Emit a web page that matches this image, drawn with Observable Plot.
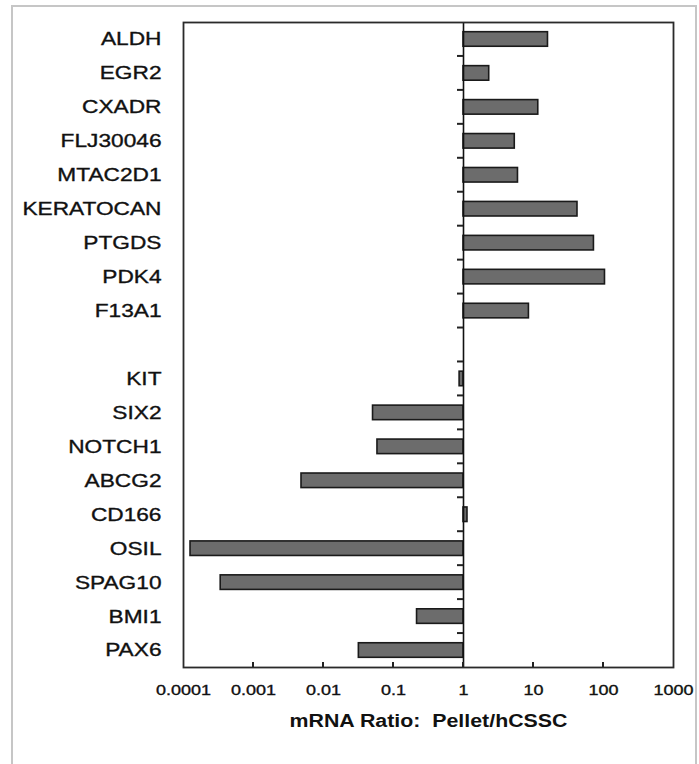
<!DOCTYPE html>
<html>
<head>
<meta charset="utf-8">
<script src="https://cdn.jsdelivr.net/npm/d3@7"></script>
<script src="https://cdn.jsdelivr.net/npm/@observablehq/plot@0.6"></script>
<style>
  html, body { margin: 0; padding: 0; background: #fff; }
  #wrap { position: relative; width: 699px; height: 764px; overflow: hidden; background: #fff; }
  #border { position: absolute; left: 11px; top: 5px; width: 686px; height: 800px;
            border: 2px solid #c6c6c6; border-bottom: none; box-sizing: border-box; z-index: 2; pointer-events: none; }
  #chart { position: absolute; left: 0; top: 0; z-index: 1; }
</style>
</head>
<body>
<div id="wrap"><div id="border"></div><div id="chart"></div></div>
<script>
// Categories in display order; " " is the blank spacer row between the two groups
const categories = ["ALDH","EGR2","CXADR","FLJ30046","MTAC2D1","KERATOCAN","PTGDS","PDK4","F13A1"," ",
                    "KIT","SIX2","NOTCH1","ABCG2","CD166","OSIL","SPAG10","BMI1","PAX6"];
const genes  = ["ALDH","EGR2","CXADR","FLJ30046","MTAC2D1","KERATOCAN","PTGDS","PDK4","F13A1",
                "KIT","SIX2","NOTCH1","ABCG2","CD166","OSIL","SPAG10","BMI1","PAX6"];
const ratios = [16.1, 2.33, 11.7, 5.4, 6.0, 42.5, 73, 105, 8.6,
                0.88, 0.051, 0.059, 0.00485, 1.14, 0.000126, 0.00034, 0.217, 0.032];
const xTicks = [0.0001, 0.001, 0.01, 0.1, 1, 10, 100, 1000];
const xTickLabels = ["0.0001","0.001","0.01","0.1","1","10","100","1000"];
const xTitle = "mRNA Ratio:  Pellet/hCSSC";

const data = genes.map((g, i) => ({gene: g, ratio: ratios[i]}));

const W = 699, H = 764, mT = 22, mB = 97, mL = 183, mR = 26;
const font = "'Liberation Sans', Arial, Helvetica, sans-serif";

const plot = Plot.plot({
  width: W, height: H,
  marginTop: mT, marginBottom: mB, marginLeft: mL, marginRight: mR,
  style: {fontFamily: font, color: "#111", background: "transparent"},
  x: {type: "log", domain: [0.0001, 1000]},
  y: {domain: categories, padding: 0, round: false},
  marks: [
    Plot.barX(data, {y: "gene", x1: 1, x2: "ratio", insetTop: 9.7, insetBottom: 9.7,
                     fill: "#6c6c6c", stroke: "#1a1a1a", strokeWidth: 1.6}),
    Plot.ruleX([1], {stroke: "#111", strokeWidth: 1.6}),
    Plot.frame({stroke: "#2a2a2a", strokeWidth: 1.8}),
    Plot.axisX({ticks: xTicks, tickFormat: (d) => xTickLabels[xTicks.indexOf(d)], tickSize: 0, tickPadding: 17, label: null, fontSize: 14.5}),
    Plot.axisY({tickSize: 0, tickPadding: 22, label: null, fontSize: 18.6}),
    Plot.text([xTitle], {frameAnchor: "bottom", dy: 59, fontWeight: "bold", fontSize: 17.5, fill: "#111"})
  ]
});
document.getElementById("chart").append(plot);

const xs = plot.scale("x"), ys = plot.scale("y");
const x0 = xs.apply(1);
const svg = d3.select(plot);
const gt = svg.append("g").attr("stroke", "#222").attr("stroke-width", 2);
for (let i = 1; i < categories.length; i++) {
  const yb = ys.apply(categories[i]);
  gt.append("line").attr("x1", x0 - 6).attr("x2", x0).attr("y1", yb).attr("y2", yb);
}
const yBottom = H - mB;
for (const t of xTicks.slice(1, -1)) {
  const xx = xs.apply(t);
  gt.append("line").attr("x1", xx).attr("x2", xx).attr("y1", yBottom).attr("y2", yBottom - 5);
}

// horizontal stretch of the text, as in the reference image
function stretch(sel, k) {
  sel.each(function() {
    const L = this.getComputedTextLength();
    if (L > 0) {
      this.setAttribute("textLength", L * k);
      this.setAttribute("lengthAdjust", "spacingAndGlyphs");
    }
  });
}
svg.selectAll("text").style("white-space", "pre");
stretch(svg.selectAll('g[aria-label="y-axis tick label"] text'), 1.22);
stretch(svg.selectAll('g[aria-label="x-axis tick label"] text'), 1.24);
stretch(svg.selectAll('g[aria-label="text"] text'), 1.22);
// slightly heavier glyphs, like the scanned reference
svg.selectAll('g[aria-label="y-axis tick label"] text, g[aria-label="x-axis tick label"] text')
  .attr("stroke", "#111").attr("stroke-width", 0.35);
</script>
</body>
</html>
